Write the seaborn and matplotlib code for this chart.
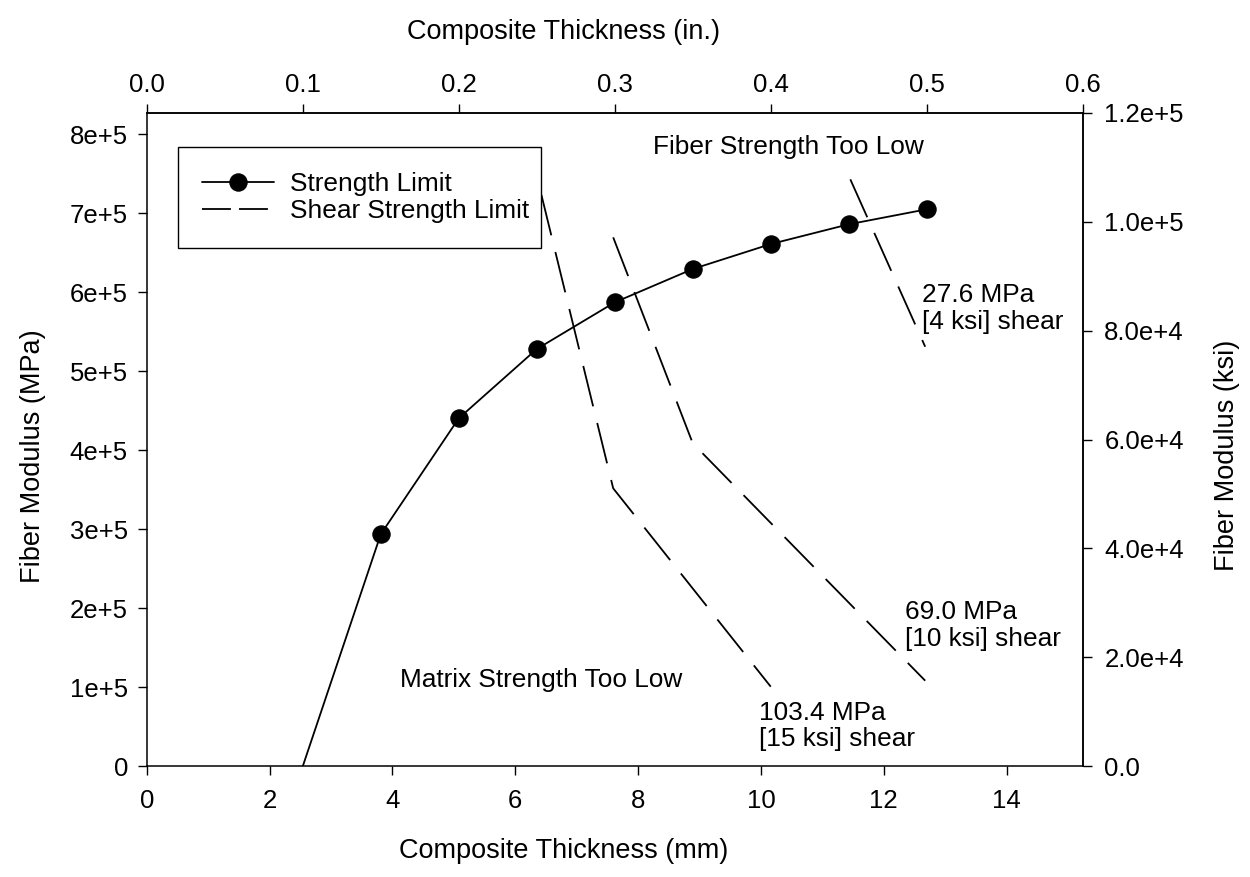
import numpy as np
import pandas as pd
import matplotlib
matplotlib.use("Agg")
import matplotlib.pyplot as plt
from matplotlib.ticker import FuncFormatter
import seaborn as sns

MM_PER_IN = 25.4
MPA_PER_KSI = 6.894757

# strength limit curve (thickness in inches, modulus in MPa)
thick_in = [0.10, 0.15, 0.20, 0.25, 0.30, 0.35, 0.40, 0.45, 0.50]
modulus_mpa = [0.0, 2.937e5, 4.405e5, 5.282e5, 5.873e5, 6.295e5, 6.611e5, 6.861e5, 7.051e5]

# shear strength limit lines
shear_103_in = [0.253, 0.299, 0.400]
shear_103_mpa = [7.232e5, 3.519e5, 1.008e5]
shear_69_in = [0.299, 0.350, 0.499]
shear_69_mpa = [6.696e5, 4.089e5, 1.084e5]
shear_28_in = [0.451, 0.499]
shear_28_mpa = [7.430e5, 5.311e5]

sns.set_style("ticks")
plt.rcParams['font.family'] = ['Liberation Sans', 'DejaVu Sans']
plt.rcParams['text.color'] = 'black'
plt.rcParams['axes.labelcolor'] = 'black'
plt.rcParams['xtick.color'] = 'black'
plt.rcParams['ytick.color'] = 'black'

fig, ax = plt.subplots(figsize=(12.5, 8.77), dpi=100)
fig.subplots_adjust(left=0.1174, right=0.8662, bottom=0.1262, top=0.8715)

strength = pd.DataFrame({"mm": np.array(thick_in) * MM_PER_IN, "mpa": modulus_mpa})
sns.lineplot(data=strength, x="mm", y="mpa", ax=ax, color="black", lw=1.3,
             marker="o", markersize=12.5, markeredgecolor="black",
             markevery=list(range(1, len(thick_in))), label="Strength Limit", sort=False)

dash = (0, (23, 9.5))
for i, (xs, ys) in enumerate([(shear_103_in, shear_103_mpa),
                              (shear_69_in, shear_69_mpa),
                              (shear_28_in, shear_28_mpa)]):
    sns.lineplot(x=np.array(xs) * MM_PER_IN, y=ys, ax=ax, color="black", lw=1.3,
                 linestyle=dash, sort=False,
                 label="Shear Strength Limit" if i == 0 else "_nolegend_")

ax.set_xlim(0, 0.6 * MM_PER_IN)
ax.set_ylim(0, 1.2e5 * MPA_PER_KSI)
ax.set_xticks(np.arange(0, 15, 2))
ax.set_yticks(np.arange(0, 8.1e5, 1e5))


def sci(v, digits):
    if v == 0:
        return "0" if digits == 0 else "0.0"
    s = f"{v:.{digits}e}"
    mant, exp = s.split("e")
    return f"{mant}e{int(exp):+d}"


ax.yaxis.set_major_formatter(FuncFormatter(lambda v, p: sci(v, 0)))

secx = ax.secondary_xaxis("top", functions=(lambda x: x / MM_PER_IN, lambda x: x * MM_PER_IN))
secx.set_xticks(np.arange(0, 0.61, 0.1))
secx.xaxis.set_major_formatter(FuncFormatter(lambda v, p: f"{v:.1f}"))
secy = ax.secondary_yaxis("right", functions=(lambda y: y / MPA_PER_KSI, lambda y: y * MPA_PER_KSI))
secy.set_yticks(np.arange(0, 1.21e5, 2e4))
secy.yaxis.set_major_formatter(FuncFormatter(lambda v, p: sci(v, 1)))

fs_tick = 18.5
fs_lab = 19.5
for a in (ax, secx, secy):
    a.tick_params(direction="out", length=6.5, width=1.0, color="black",
                  labelsize=fs_tick, labelcolor="black")
ax.tick_params(axis="x", pad=9.5)
ax.tick_params(axis="y", pad=7)
secx.tick_params(pad=4.5)
secy.tick_params(pad=9)
for a in (ax, secx, secy):
    for sp in a.spines.values():
        sp.set_color("black")
        sp.set_linewidth(1.1)

ax.set_xlabel("Composite Thickness (mm)", fontsize=fs_lab)
ax.xaxis.set_label_coords(0.445, -0.11)
ax.set_ylabel("Fiber Modulus (MPa)", fontsize=fs_lab, labelpad=17)
secx.set_xlabel("Composite Thickness (in.)", fontsize=fs_lab, labelpad=25)
secy.set_ylabel("Fiber Modulus (ksi)", fontsize=fs_lab, labelpad=22)
ax.yaxis.label.set_y(0.475)
secx.xaxis.label.set_x(0.445)
secy.yaxis.label.set_y(0.475)

fs_ann = 18.9
ax.text(10.44, 7.84e5, "Fiber Strength Too Low", fontsize=fs_ann, ha="center", va="center")
ax.text(4.12, 1.09e5, "Matrix Strength Too Low", fontsize=fs_ann, ha="left", va="center")
ax.text(12.63, 5.79e5, "27.6 MPa\n[4 ksi] shear", fontsize=fs_ann, ha="left", va="center", linespacing=1.15)
ax.text(12.35, 1.78e5, "69.0 MPa\n[10 ksi] shear", fontsize=fs_ann, ha="left", va="center", linespacing=1.15)
ax.text(9.97, 0.51e5, "103.4 MPa\n[15 ksi] shear", fontsize=fs_ann, ha="left", va="center", linespacing=1.15)

leg = ax.legend(loc="upper left", bbox_to_anchor=(0.0331, 0.947, 0.3882, 0.0), mode="expand",
                borderaxespad=0, fontsize=fs_ann, frameon=True, fancybox=False, shadow=False,
                handlelength=2.75, handletextpad=0.6, borderpad=0.93, labelspacing=0.13)
leg.get_frame().set_edgecolor("black")
leg.get_frame().set_linewidth(1.0)
leg.get_frame().set_alpha(1)
leg.get_lines()[1].set_linestyle((0, (16, 4.5)))

fig.savefig("out.png", dpi=100)
